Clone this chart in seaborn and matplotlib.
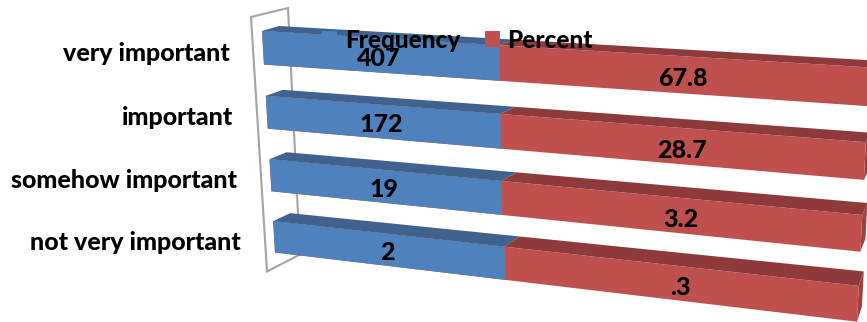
import numpy as np
import pandas as pd
import matplotlib
matplotlib.use("Agg")
import matplotlib.pyplot as plt
from matplotlib import transforms as mtransforms
from matplotlib.patches import Patch
import seaborn as sns

categories = ["very important", "important", "somehow important", "not very important"]
frequency = [407, 172, 19, 2]
percent = [67.83, 28.67, 3.17, 0.33]

BLUE, BLUE_TOP = "#4F81BD", "#3F628F"
RED, RED_TOP, RED_SIDE = "#C0504D", "#8F3A3A", "#A23F3D"
WALL = "#A3A3A3"
BAR_WIDTH = 0.515
STRETCH = 5.52
FONT = 18.0
LEGEND_FONT = 17.6

sns.set_theme(style="white")
plt.rcParams["font.family"] = ["Lato", "DejaVu Sans"]
plt.rcParams["font.weight"] = 900
plt.rcParams["text.color"] = "black"


def plane_matrix(corners):
    """Homography from (t, row) to canvas pixels, given the plane's four corners."""
    rows = (-BAR_WIDTH / 2, 3 + BAR_WIDTH / 2)
    source = [(0, rows[0]), (1, rows[0]), (0, rows[1]), (1, rows[1])]
    lhs, rhs = [], []
    for (t, r), (px, py) in zip(source, corners):
        lhs.append([t, r, 1, 0, 0, 0, -t * px, -r * px])
        lhs.append([0, 0, 0, t, r, 1, -t * py, -r * py])
        rhs += [px, py]
    return np.append(np.linalg.solve(lhs, rhs), 1).reshape(3, 3)


class BarProjection(mtransforms.Transform):
    """Tilts the stacked shares into the receding 3-D bar plane."""
    input_dims = output_dims = 2
    is_separable = False
    has_inverse = False

    def __init__(self, corners):
        super().__init__()
        self.matrix = plane_matrix(corners)

    def transform_non_affine(self, values):
        values = np.asarray(values, dtype=float)
        t = np.clip(values[:, 0], 0, None) ** STRETCH
        mapped = np.column_stack([t, values[:, 1], np.ones(len(t))]) @ self.matrix.T
        return mapped[:, :2] / mapped[:, 2:]


front = BarProjection([(262, 31), (869.5, 67.4), (275, 252.5), (857, 321.7)])
back = BarProjection([(279, 26), (874.5, 60.5), (292, 244), (862, 306)])

freq = np.array(frequency, dtype=float)
pct = np.array(percent, dtype=float)
total = freq + pct
blue_end = freq / total
red_end = total / total

df = pd.DataFrame({
    "category": categories * 2,
    "series": ["Percent"] * 4 + ["Frequency"] * 4,
    "end": np.concatenate([red_end, blue_end]),
})

fig, ax = plt.subplots(figsize=(8.67, 3.22), dpi=100)
ax.set_position([0, 0, 1, 1])

sns.barplot(
    data=df, y="category", x="end", hue="series", order=categories,
    hue_order=["Percent", "Frequency"], palette={"Percent": RED, "Frequency": BLUE},
    dodge=False, width=BAR_WIDTH, errorbar=None, legend=False, linewidth=0,
    saturation=1, ax=ax,
)
proj_display = front + ax.transData
for bar in ax.patches:
    bar.set_transform(proj_display)
    bar.set_zorder(2)

ax.set_xlim(0, 867)
ax.set_ylim(322, 0)
ax.axis("off")

# Chart wall behind the bars
ax.plot([251, 288, 300], [17, 8, 255], color=WALL, lw=1.5, zorder=1, solid_joinstyle="miter")
ax.plot([251, 267, 299], [17, 271.5, 255], color=WALL, lw=1.5, zorder=1, solid_joinstyle="miter")


def pts(plane, share, row):
    return plane.transform(np.array([[share, row]]))[0]


for i in range(len(categories)):
    top = i - BAR_WIDTH / 2
    bottom = i + BAR_WIDTH / 2
    # Upper faces of the two stacked segments
    for start, end, colour in ((0, blue_end[i], BLUE_TOP), (blue_end[i], red_end[i], RED_TOP)):
        corners = [pts(front, start, top), pts(front, end, top),
                   pts(back, end, top), pts(back, start, top)]
        ax.fill(*zip(*corners), color=colour, lw=0, zorder=2)
    # Right end cap of the bar
    corners = [pts(front, 1, top), pts(back, 1, top), pts(back, 1, bottom), pts(front, 1, bottom)]
    ax.fill(*zip(*corners), color=RED_SIDE, lw=0, zorder=1.5)

    # Value labels, centred on each segment along the receding axis
    t_split = blue_end[i] ** STRETCH
    blue_mid = (t_split / 2) ** (1 / STRETCH)
    red_mid = ((t_split + 1) / 2) ** (1 / STRETCH)
    x, y = pts(front, blue_mid, i)
    ax.text(x + 1.5, y + 3, f"{frequency[i]}", ha="center", va="center", fontsize=FONT, zorder=4)
    x, y = pts(front, red_mid, i)
    ax.text(x + 7, y + 4.5, f"{percent[i]:.1f}".removeprefix("0"), ha="center", va="center",
            fontsize=FONT, zorder=4)

    # Category labels beside the wall
    x, y = pts(front, 0, i)
    ax.text(x - 33.5, y + 5.5, categories[i], ha="right", va="center", fontsize=FONT, zorder=4)

handles = [Patch(color=BLUE, lw=0), Patch(color=RED, lw=0)]
legend = ax.legend(
    handles, ["Frequency", "Percent"], ncols=2, frameon=False, fontsize=LEGEND_FONT,
    handlelength=0.63, handleheight=0.63, handletextpad=0.3, columnspacing=1.0,
    loc="center left", bbox_to_anchor=(322 / 867, 1 - 40.5 / 322), borderpad=0, borderaxespad=0,
)
legend.set_zorder(5)

fig.savefig("out.png", dpi=100)
